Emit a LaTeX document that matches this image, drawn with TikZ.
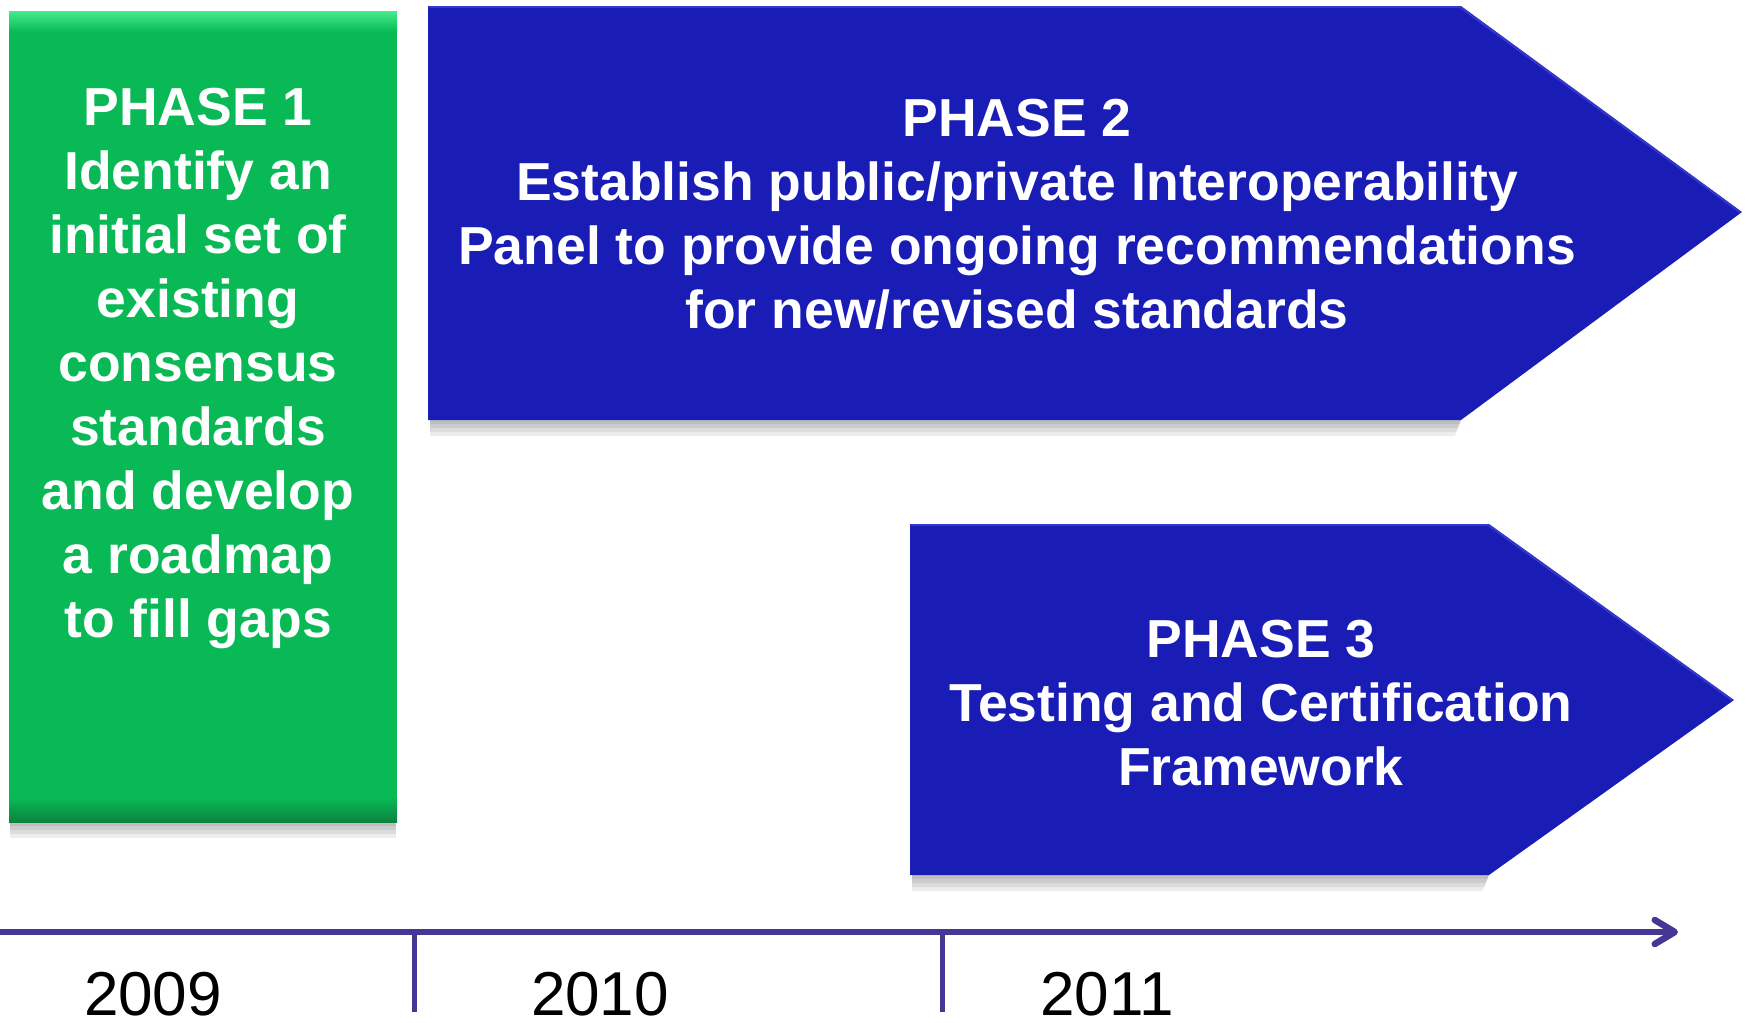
\documentclass[tikz,border=0pt]{standalone}
\usepackage{fontspec}
\setmainfont{Liberation Sans}
\usetikzlibrary{arrows.meta}
\definecolor{pgreen}{RGB}{8,185,85}
\definecolor{pgreenlt}{RGB}{70,235,140}
\definecolor{pgreendk}{RGB}{12,130,62}
\definecolor{pblue}{RGB}{26,29,181}
\definecolor{pbluelt}{RGB}{70,75,220}
\definecolor{tline}{RGB}{70,54,150}
\begin{document}
\begin{tikzpicture}[x=1pt,y=-1pt,
  phasetext/.style={text=white,font=\fontsize{53.5}{64}\selectfont\bfseries,align=center,inner sep=0pt},
  yeartext/.style={font=\fontsize{62}{70}\selectfont,anchor=base,text=black,inner sep=0pt},
  shadowfill/.style={fill=black,opacity=0.07},
  tick/.style={draw=tline,line width=5pt}]
\useasboundingbox (0,0) rectangle (1749,1023);
% ---------- shadows (soft, layered)
\foreach \d in {4,8,12,16}{
  \fill[shadowfill] (10,822) rectangle (396,822+\d);
  \fill[shadowfill] (430,420) -- (1461,420) -- (1461-\d*0.4,420+\d) -- (430,420+\d) -- cycle;
  \fill[shadowfill] (912,875) -- (1489,875) -- (1489-\d*0.4,875+\d) -- (912,875+\d) -- cycle;
}
% ---------- phase 1 (green box)
\fill[pgreen] (9,11) rectangle (397,822);
\shade[top color=pgreenlt,bottom color=pgreen] (9,11) rectangle (397,32);
\shade[top color=pgreen,bottom color=pgreendk] (9,798) rectangle (397,822);
% ---------- phase 2 (blue arrow)
\fill[pblue] (428,6) -- (1461,6) -- (1742,212) -- (1461,420) -- (428,420) -- cycle;
\draw[pbluelt,line width=2pt,opacity=0.6] (429,7) -- (1460,7) -- (1740,212);
% ---------- phase 3 (blue arrow)
\fill[pblue] (910,524) -- (1489,524) -- (1734,700) -- (1489,875) -- (910,875) -- cycle;
\draw[pbluelt,line width=2pt,opacity=0.6] (911,525) -- (1488,525) -- (1732,700);
% ---------- texts
\node[phasetext] (p1) at (198,368) {PHASE 1\\Identify an\\initial set of\\existing\\consensus\\standards\\and develop\\a roadmap\\to fill gaps};
\node[phasetext] (p2) at (1017,214) {PHASE 2\\Establish public/private Interoperability\\Panel to provide ongoing recommendations\\for new/revised standards};
\node[phasetext] (p3) at (1261,703) {PHASE 3\\Testing and Certification\\Framework};
% ---------- timeline
\coordinate (tl0) at (0,932);
\coordinate (tl1) at (1678,932);
\draw[tline,line width=6pt,-{Straight Barb[length=20pt,width=24pt,line width=6.5pt,round]}] (tl0) -- (tl1);
\coordinate (ta) at (414,932);
\coordinate (tb) at (414,1012);
\coordinate (tc) at (942,932);
\coordinate (td) at (942,1012);
\draw[tick] (ta) -- (tb);
\draw[tick] (tc) -- (td);
\node[yeartext] (y1) at (153,1015) {2009};
\node[yeartext] (y2) at (600,1015) {2010};
\node[yeartext] (y3) at (1107,1015) {2011};
\end{tikzpicture}
\end{document}
